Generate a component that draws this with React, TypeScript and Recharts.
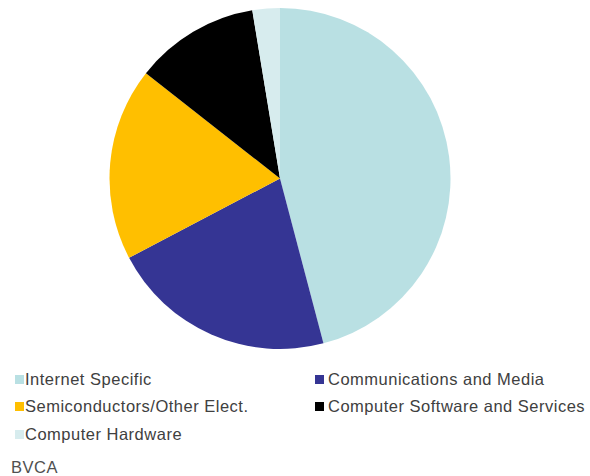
import { PieChart, Pie, Cell, Legend } from 'recharts';

const sectors = [
    'Internet Specific',
    'Communications and Media',
    'Semiconductors/Other Elect.',
    'Computer Software and Services',
    'Computer Hardware',
];
const shares = [45.9, 21.4, 18.3, 11.8, 2.6];
const colors = ['#B9E0E3', '#353594', '#FFBF00', '#000000', '#D7ECEE'];

const chartData = sectors.map((name, i) => ({ name, value: shares[i], fill: colors[i] }));

// Two-column legend laid out like the original spreadsheet chart
function renderLegend() {
    return (
        <div style={{ position: 'relative', width: 590, height: 90 }}>
            {chartData.map((entry, index) => {
                const col = index % 2;
                const row = Math.floor(index / 2);
                const markerLeft = col === 0 ? 15 : 315;
                const textLeft = col === 0 ? 25 : 328;
                return (
                    <div key={`legend-${index}`}>
                        <span
                            style={{
                                position: 'absolute',
                                left: markerLeft,
                                top: row * 27.5 + 6,
                                width: 9,
                                height: 9,
                                backgroundColor: entry.fill,
                            }}
                        />
                        <span
                            style={{
                                position: 'absolute',
                                left: textLeft,
                                top: row * 27.5,
                                lineHeight: '21px',
                                fontSize: 16.5,
                                letterSpacing: 0.5,
                                color: '#404040',
                                whiteSpace: 'nowrap',
                            }}
                        >
                            {entry.name}
                        </span>
                    </div>
                );
            })}
        </div>
    );
}

export default function App() {
    return (
        <div
            style={{
                position: 'absolute',
                left: 0,
                top: 0,
                width: 590,
                height: 476,
                background: '#fff',
                fontFamily: 'Arial, "Liberation Sans", sans-serif',
            }}
        >
            <PieChart width={590} height={476} margin={{ top: 0, right: 0, bottom: 0, left: 0 }}>
                <Pie
                    data={chartData}
                    dataKey="value"
                    nameKey="name"
                    cx={280}
                    cy={178.5}
                    outerRadius={170.5}
                    startAngle={90}
                    endAngle={-270}
                    stroke="none"
                    isAnimationActive={false}
                >
                    {chartData.map((entry, index) => (
                        <Cell key={`cell-${index}`} fill={entry.fill} />
                    ))}
                </Pie>
                <Legend
                    content={renderLegend}
                    wrapperStyle={{ position: 'absolute', left: 0, top: 368.5, width: 590 }}
                />
            </PieChart>
            <div
                style={{
                    position: 'absolute',
                    left: 11,
                    top: 457,
                    lineHeight: '21px',
                    fontSize: 16.5,
                    letterSpacing: 0.5,
                    color: '#505050',
                }}
            >
                BVCA
            </div>
        </div>
    );
}
